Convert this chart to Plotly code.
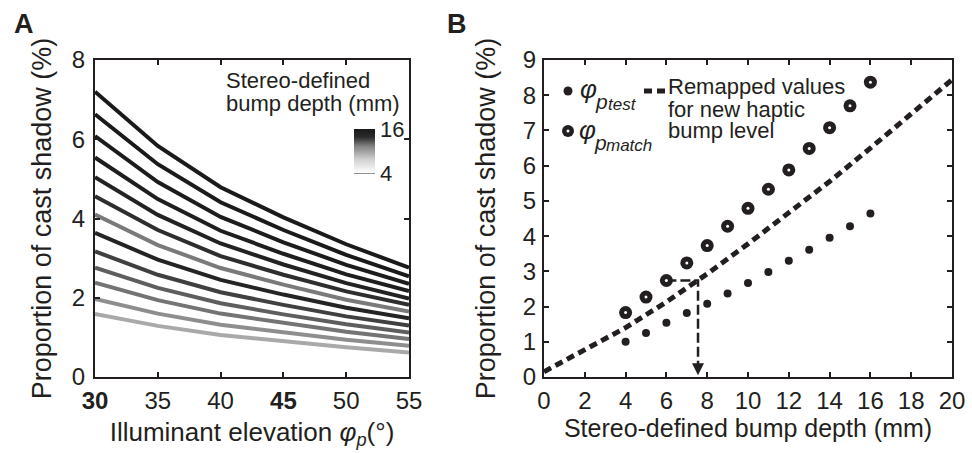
import plotly.graph_objects as go

# Panel A: cast shadow vs illuminant elevation, one curve per stereo depth
elevation = [30, 35, 40, 45, 50, 55]
elevation_ticks = ["<b>30</b>", "35", "40", "<b>45</b>", "50", "55"]
depth_a = [16, 15, 14, 13, 12, 11, 10, 9, 8, 7, 6, 5, 4]
d16 = [7.20, 5.83, 4.79, 4.03, 3.35, 2.76]
d15 = [6.63, 5.37, 4.41, 3.71, 3.08, 2.54]
d14 = [6.08, 4.92, 4.04, 3.40, 2.83, 2.35]
d13 = [5.54, 4.49, 3.69, 3.11, 2.59, 2.17]
d12 = [5.04, 4.09, 3.37, 2.84, 2.37, 1.98]
d11 = [4.56, 3.71, 3.05, 2.58, 2.16, 1.82]
d10 = [4.10, 3.33, 2.75, 2.33, 1.95, 1.65]
d9 = [3.64, 2.96, 2.45, 2.08, 1.75, 1.48]
d8 = [3.17, 2.58, 2.14, 1.82, 1.53, 1.30]
d7 = [2.76, 2.25, 1.86, 1.58, 1.33, 1.12]
d6 = [2.38, 1.94, 1.60, 1.36, 1.14, 0.96]
d5 = [1.97, 1.60, 1.32, 1.12, 0.94, 0.79]
d4 = [1.59, 1.29, 1.06, 0.90, 0.75, 0.62]
curves = [d16, d15, d14, d13, d12, d11, d10, d9, d8, d7, d6, d5, d4]
curve_colors = [
    "#1a1a1a", "#1a1a1a", "#1c1c1c", "#1e1e1e", "#222222", "#2e2e2e", "#7a7a7a",
    "#242424", "#404040", "#5e5e5e", "#747474", "#8e8e8e", "#a9a9a9",
]

# Panel B: test vs matched elevation shadow proportions
depth_b = [4, 5, 6, 7, 8, 9, 10, 11, 12, 13, 14, 15, 16]
test_pct = [1.00, 1.25, 1.54, 1.82, 2.08, 2.37, 2.67, 2.98, 3.30, 3.61, 3.95, 4.28, 4.64]
match_pct = [1.83, 2.27, 2.74, 3.24, 3.73, 4.28, 4.79, 5.33, 5.88, 6.49, 7.08, 7.70, 8.37]
remap_depth = [0, 2, 4, 6, 8, 10, 12, 14, 16, 18, 20]
remap_pct = [0.15, 0.76, 1.40, 2.13, 2.93, 3.78, 4.65, 5.55, 6.50, 7.45, 8.44]
guide_depth = [6, 7.55, 7.55]
guide_pct = [2.74, 2.74, 0.25]

INK = "#231f20"
W, H = 972, 453


def px(x, y):
    return x / W, 1 - y / H


fig = go.Figure()

for values, color, depth in zip(curves, curve_colors, depth_a):
    fig.add_trace(
        go.Scatter(
            x=elevation,
            y=values,
            mode="lines",
            line={"color": color, "width": 4},
            name=f"{depth} mm",
            xaxis="x",
            yaxis="y",
            hovertemplate="%{x}°<br>%{y:.2f}%<extra></extra>",
        )
    )

# colour key for the depth curves
fig.add_trace(
    go.Scatter(
        x=[None],
        y=[None],
        mode="markers",
        xaxis="x",
        yaxis="y",
        hoverinfo="skip",
        marker={
            "color": [depth_a[-1]],
            "cmin": depth_a[-1],
            "cmax": depth_a[0],
            "colorscale": [
                [0.0, "#ffffff"],
                [0.3, "#d2d2d2"],
                [0.6, "#858585"],
                [0.82, "#2a2a2a"],
                [1.0, "#1a1a1a"],
            ],
            "showscale": True,
            "colorbar": {
                "x": 354 / W,
                "xanchor": "left",
                "y": 1 - 151 / H,
                "yanchor": "middle",
                "len": 44,
                "lenmode": "pixels",
                "thickness": 21,
                "thicknessmode": "pixels",
                "xpad": 0,
                "ypad": 0,
                "outlinewidth": 0,
                "tickvals": [depth_a[-1], depth_a[0]],
                "ticks": "",
                "tickfont": {"size": 22, "color": INK},
            },
        },
    )
)

fig.add_trace(
    go.Scatter(
        x=remap_depth,
        y=remap_pct,
        mode="lines",
        line={"color": INK, "width": 5, "dash": "8px,5px"},
        xaxis="x2",
        yaxis="y2",
        hoverinfo="skip",
    )
)
fig.add_trace(
    go.Scatter(
        x=guide_depth,
        y=guide_pct,
        mode="lines",
        line={"color": INK, "width": 2.5, "dash": "10px,4px"},
        xaxis="x2",
        yaxis="y2",
        hoverinfo="skip",
    )
)
fig.add_trace(
    go.Scatter(
        x=depth_b,
        y=test_pct,
        mode="markers",
        marker={"size": 8, "color": INK},
        xaxis="x2",
        yaxis="y2",
        hovertemplate="test %{x} mm<br>%{y:.2f}%<extra></extra>",
    )
)
fig.add_trace(
    go.Scatter(
        x=depth_b,
        y=match_pct,
        mode="markers",
        marker={"size": 13, "color": INK},
        xaxis="x2",
        yaxis="y2",
        hovertemplate="match %{x} mm<br>%{y:.2f}%<extra></extra>",
    )
)
fig.add_trace(
    go.Scatter(
        x=depth_b,
        y=match_pct,
        mode="markers",
        marker={"size": 3, "color": "white"},
        xaxis="x2",
        yaxis="y2",
        hoverinfo="skip",
    )
)

axis_style = dict(
    showline=True,
    linecolor=INK,
    linewidth=2,
    mirror="ticks",
    ticks="inside",
    ticklen=5,
    tickwidth=1.5,
    tickcolor=INK,
    showgrid=False,
    zeroline=False,
    tickfont={"size": 24, "color": INK},
)
y_title = "Proportion of cast shadow (%)"

fig.update_layout(
    width=W,
    height=H,
    margin={"l": 0, "r": 0, "t": 0, "b": 0},
    template="none",
    plot_bgcolor="white",
    paper_bgcolor="white",
    showlegend=False,
    font={"family": "Liberation Sans, Arial, sans-serif", "color": INK, "size": 22},
    xaxis={
        **axis_style,
        "domain": [95 / W, 409 / W],
        "range": [30, 55],
        "tickvals": elevation,
        "ticktext": elevation_ticks,
        "ticklabelstandoff": 1,
        "title": {
            "text": "Illuminant elevation <i>φ<sub>p</sub></i>(°)",
            "font": {"size": 26},
            "standoff": 10,
        },
        "anchor": "y",
    },
    yaxis={
        **axis_style,
        "domain": [1 - 377 / H, 1 - 60 / H],
        "range": [0, 8],
        "tickvals": [0, 2, 4, 6, 8],
        "ticklabelstandoff": 3,
        "title": {"text": y_title, "font": {"size": 27}, "standoff": 12},
        "anchor": "x",
    },
    xaxis2={
        **axis_style,
        "domain": [544 / W, 952 / W],
        "range": [0, 20],
        "tickvals": list(range(0, 21, 2)),
        "ticklabelstandoff": 1,
        "title": {
            "text": "Stereo-defined bump depth (mm)",
            "font": {"size": 25},
            "standoff": 2,
        },
        "anchor": "y2",
    },
    yaxis2={
        **axis_style,
        "domain": [1 - 377 / H, 1 - 60 / H],
        "range": [0, 9],
        "tickvals": list(range(0, 10)),
        "ticklabelstandoff": 1,
        "title": {"text": y_title, "font": {"size": 27}, "standoff": 19},
        "anchor": "x2",
    },
)

notes = [
    ("A", 12, 24, 27, True),
    ("B", 445, 24, 27, True),
    ("Stereo-defined", 224, 80, 22, False),
    ("bump depth (mm)", 224, 103, 22, False),
    ("Remapped values", 666, 87, 22, False),
    ("for new haptic", 666, 109, 22, False),
    ("bump level", 666, 131, 22, False),
    ("<i>φ</i>", 578, 89, 26, False),
    ("<i>p</i>", 593, 101, 21, False),
    ("<i>test</i>", 606, 104, 17, False),
    ("<i>φ</i>", 577, 130, 26, False),
    ("<i>p</i>", 592, 142, 21, False),
    ("<i>match</i>", 604, 145, 17, False),
]
for text, x, y, size, bold in notes:
    ax, ay = px(x, y)
    fig.add_annotation(
        x=ax,
        y=ay,
        xref="paper",
        yref="paper",
        xanchor="left",
        yanchor="middle",
        text=f"<b>{text}</b>" if bold else text,
        showarrow=False,
        font={"size": size, "color": INK},
    )

# arrow head at the end of the guide line
fig.add_annotation(
    x=guide_depth[-1],
    y=0.05,
    xref="x2",
    yref="y2",
    ax=0,
    ay=-12,
    text="",
    showarrow=True,
    arrowhead=2,
    arrowsize=1.2,
    arrowwidth=2,
    arrowcolor=INK,
)

# thin tick under the colour key
kx0, ky = px(354, 173)
kx1, _ = px(375, 173)
fig.add_shape(
    type="line", xref="paper", yref="paper",
    x0=kx0, x1=kx1, y0=ky, y1=ky, line={"color": INK, "width": 1},
)

# legend glyphs for panel B
lx, ly1 = px(568, 91)
_, ly2 = px(568, 131)
for cy, r, color in [(ly1, 4.5, INK), (ly2, 6, INK), (ly2, 1.5, "white")]:
    fig.add_shape(
        type="circle",
        xref="paper",
        yref="paper",
        xsizemode="pixel",
        ysizemode="pixel",
        xanchor=lx,
        yanchor=cy,
        x0=-r,
        x1=r,
        y0=-r,
        y1=r,
        fillcolor=color,
        line={"width": 0},
    )
dx0, dy = px(644, 91)
dx1, _ = px(667, 91)
fig.add_shape(
    type="line",
    xref="paper",
    yref="paper",
    x0=dx0,
    x1=dx1,
    y0=dy,
    y1=dy,
    line={"color": INK, "width": 5, "dash": "8px,5px"},
)

# page body has a default 8px margin; drop it so the figure fills the window
fig.write_html(
    "out.html",
    config={"displayModeBar": False},
    post_script="document.body.style.margin = '0';",
)
